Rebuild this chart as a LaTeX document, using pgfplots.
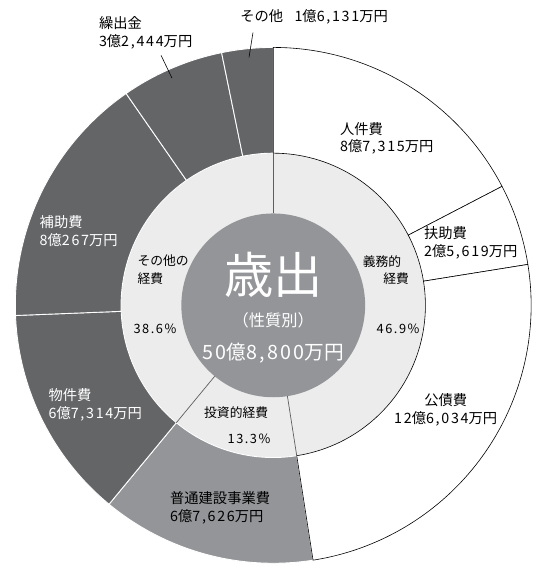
\documentclass[border=0pt]{standalone}
\usepackage{pgfplots}
\pgfplotsset{compat=1.18}
\usepackage{pgfplotstable}
\usepackage{fontspec}
\setmainfont{Noto Sans CJK JP}
\newfontfamily\numf{Noto Sans CJK JP}[LetterSpace=12]
\newcommand\n[1]{{\numf #1}}
\definecolor{darkg}{HTML}{646567}
\definecolor{midg}{HTML}{939598}
\definecolor{lightg}{HTML}{ECECEC}
\definecolor{divg}{HTML}{5E5E5E}
% values in 億円
\pgfplotstableread{
name value
jinken 8.7315
fujo 2.5619
kosai 12.6034
futsu 6.7626
bukken 6.7314
hojo 8.0267
kuri 3.2444
sonota 1.6131
}\outerdata
\def\cx{276.5}
\def\cy{263}
\def\Rout{261}
\def\Rmid{154}
\def\Rin{93}
\newcommand\sector[5]{%
  \path[#5] (axis cs:{\cx+#4*cos(#1)},{\cy+#4*sin(#1)})
    arc[start angle=#1,end angle=#2,radius=#4 bp]
    -- (axis cs:{\cx+#3*cos(#2)},{\cy+#3*sin(#2)})
    arc[start angle=#2,end angle=#1,radius=#3 bp] -- cycle;}
\newcommand\lab[4]{\node[inner sep=0pt,#1] at (axis cs:#2,{572-#3}) {#4};}
\begin{document}
\begin{tikzpicture}
% cumulative angles (clockwise from 12 o'clock)
\xdef\tot{0}
\pgfplotsforeachungrouped \i in {0,...,7}{%
  \pgfplotstablegetelem{\i}{value}\of\outerdata
  \pgfmathsetmacro\tmp{\tot+\pgfplotsretval}\xdef\tot{\tmp}}
\xdef\cum{0}
\expandafter\xdef\csname ang0\endcsname{90}
\pgfplotsforeachungrouped \i in {0,...,7}{%
  \pgfplotstablegetelem{\i}{value}\of\outerdata
  \pgfmathsetmacro\tmp{\cum+\pgfplotsretval}\xdef\cum{\tmp}%
  \pgfmathtruncatemacro\j{\i+1}%
  \pgfmathsetmacro\aa{90-(\cum/\tot)*360}%
  \expandafter\xdef\csname ang\j\endcsname{\aa}}
\begin{axis}[x=1bp,y=1bp,xmin=0,xmax=542,ymin=0,ymax=572,hide axis,clip=false]
\addplot[draw=none,forget plot] coordinates {(0,0) (542,572)};
\pgfplotsextra{%
  \fill[lightg] (axis cs:\cx,\cy) circle[radius=\Rmid bp];
  % grey sectors
  \pgfplotsforeachungrouped \i in {3,...,7}{%
    \pgfmathtruncatemacro\j{\i+1}%
    \edef\A{\csname ang\i\endcsname}\edef\B{\csname ang\j\endcsname}%
    \ifnum\i=3 \def\fc{midg}\else\def\fc{darkg}\fi
    \sector{\A}{\B}{\Rmid}{\Rout}{fill=\fc,draw=white,line width=0.9bp}}
  % white sectors
  \pgfplotsforeachungrouped \i in {0,...,2}{%
    \pgfmathtruncatemacro\j{\i+1}%
    \edef\A{\csname ang\i\endcsname}\edef\B{\csname ang\j\endcsname}%
    \sector{\A}{\B}{\Rmid}{\Rout}{fill=white,draw=black,line width=0.6bp}}
  % inner ring dividers
  \foreach \k in {0,3,4}{%
    \edef\A{\csname ang\k\endcsname}%
    \draw[divg,line width=0.7bp] (axis cs:{\cx+\Rin*cos(\A)},{\cy+\Rin*sin(\A)}) -- (axis cs:{\cx+\Rmid*cos(\A)},{\cy+\Rmid*sin(\A)});}
  \fill[midg] (axis cs:\cx,\cy) circle[radius=\Rin bp];
  % leader lines
  \draw[black,line width=0.6bp] (axis cs:256,{572-33}) -- (axis cs:252,{572-58});
  \draw[black,line width=0.6bp] (axis cs:163,{572-56}) -- (axis cs:174,{572-79});
  % centre
  \lab{text=white,font=\fontsize{50}{50}\selectfont}{276.5}{278}{歳出}
  \lab{text=white,font=\fontsize{16.5}{18}\selectfont}{276.5}{324}{（性質別）}
  \lab{text=white,font=\fontsize{20}{22}\selectfont}{276.5}{357}{\n{50}億\n{8,800}万円}
  % outer labels
  \def\lf{\fontsize{14.5}{18}\selectfont}
  \lab{anchor=west,font=\lf}{243}{17}{その他\hspace{0.8em}\n{1}億\n{6,131}万円}
  \lab{anchor=west,align=left,font=\lf}{100}{33}{繰出金\\\n{3}億\n{2,444}万円}
  \lab{anchor=west,align=left,font=\lf}{344}{140}{人件費\\\n{8}億\n{7,315}万円}
  \lab{anchor=west,align=left,font=\lf}{429}{246}{扶助費\\\n{2}億\n{5,619}万円}
  \lab{align=center,font=\lf}{451}{415}{公債費\\\n{12}億\n{6,034}万円}
  \lab{anchor=west,align=left,font=\lf}{172}{514}{普通建設事業費\\\n{6}億\n{7,626}万円}
  \lab{anchor=west,align=left,font=\lf,text=white}{49}{410}{物件費\\\n{6}億\n{7,314}万円}
  \lab{anchor=west,align=left,font=\lf,text=white}{40}{234}{補助費\\\n{8}億\n{267}万円}
  % inner labels
  \def\sf{\fontsize{13}{17.5}\selectfont}
  \lab{anchor=west,align=left,font=\sf}{139}{273}{その他の\\経費}
  \lab{anchor=west,font=\sf}{135}{333}{\n{38.6\%}}
  \lab{anchor=west,align=left,font=\sf}{367}{273}{義務的\\\hspace*{1.6em}経費}
  \lab{anchor=west,font=\sf}{381}{333}{\n{46.9\%}}
  \lab{font=\sf}{239}{418}{投資的経費}
  \lab{font=\sf}{252}{444}{\n{13.3\%}}
}
\end{axis}
\end{tikzpicture}
\end{document}
